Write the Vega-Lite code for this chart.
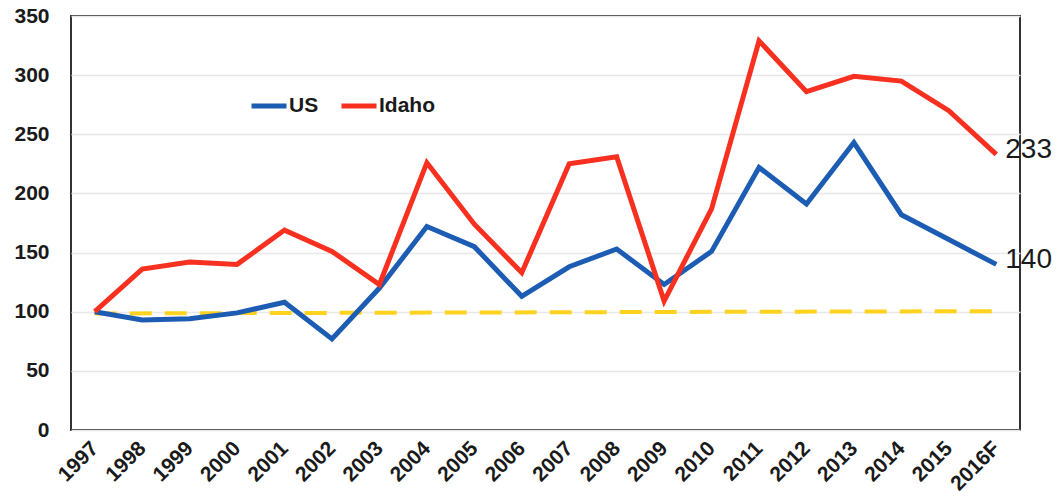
{
  "$schema": "https://vega.github.io/schema/vega-lite/v6.json",
  "width": 949,
  "height": 414,
  "autosize": {"type": "none"},
  "padding": {"left": 71, "top": 16, "right": 40, "bottom": 74},
  "background": "white",
  "config": {
    "view": {"stroke": "#333333", "strokeWidth": 2},
    "font": "Liberation Sans"
  },
  "datasets": {
    "main": [
      {"year": "1997", "series": "US", "value": 100},
      {"year": "1998", "series": "US", "value": 93},
      {"year": "1999", "series": "US", "value": 94},
      {"year": "2000", "series": "US", "value": 99},
      {"year": "2001", "series": "US", "value": 108},
      {"year": "2002", "series": "US", "value": 77},
      {"year": "2003", "series": "US", "value": 120},
      {"year": "2004", "series": "US", "value": 172},
      {"year": "2005", "series": "US", "value": 155},
      {"year": "2006", "series": "US", "value": 113},
      {"year": "2007", "series": "US", "value": 138},
      {"year": "2008", "series": "US", "value": 153},
      {"year": "2009", "series": "US", "value": 123},
      {"year": "2010", "series": "US", "value": 151},
      {"year": "2011", "series": "US", "value": 222},
      {"year": "2012", "series": "US", "value": 191},
      {"year": "2013", "series": "US", "value": 243},
      {"year": "2014", "series": "US", "value": 182},
      {"year": "2015", "series": "US", "value": 161},
      {"year": "2016F", "series": "US", "value": 140},
      {"year": "1997", "series": "Idaho", "value": 100},
      {"year": "1998", "series": "Idaho", "value": 136},
      {"year": "1999", "series": "Idaho", "value": 142},
      {"year": "2000", "series": "Idaho", "value": 140},
      {"year": "2001", "series": "Idaho", "value": 169},
      {"year": "2002", "series": "Idaho", "value": 151},
      {"year": "2003", "series": "Idaho", "value": 123},
      {"year": "2004", "series": "Idaho", "value": 226},
      {"year": "2005", "series": "Idaho", "value": 174},
      {"year": "2006", "series": "Idaho", "value": 133},
      {"year": "2007", "series": "Idaho", "value": 225},
      {"year": "2008", "series": "Idaho", "value": 231},
      {"year": "2009", "series": "Idaho", "value": 109},
      {"year": "2010", "series": "Idaho", "value": 187},
      {"year": "2011", "series": "Idaho", "value": 329},
      {"year": "2012", "series": "Idaho", "value": 286},
      {"year": "2013", "series": "Idaho", "value": 299},
      {"year": "2014", "series": "Idaho", "value": 295},
      {"year": "2015", "series": "Idaho", "value": 270},
      {"year": "2016F", "series": "Idaho", "value": 233}
    ],
    "baseline": [
      {"year": "1997", "value": 98.5},
      {"year": "2016F", "value": 100.5}
    ]
  },
  "encoding": {
    "x": {
      "field": "year",
      "type": "ordinal",
      "scale": {"type": "point", "padding": 0.5},
      "axis": {
        "title": null,
        "domain": false,
        "ticks": false,
        "grid": false,
        "labelAngle": -45,
        "labelAlign": "right",
        "labelBaseline": "middle",
        "labelFontSize": 21,
        "labelFontWeight": "bold",
        "labelColor": "#1a1a1a",
        "labelPadding": 15
      }
    },
    "y": {
      "field": "value",
      "type": "quantitative",
      "scale": {"domain": [0, 350], "nice": false},
      "axis": {
        "title": null,
        "values": [0, 50, 100, 150, 200, 250, 300, 350],
        "domain": false,
        "ticks": false,
        "grid": true,
        "gridColor": "#e8e8e8",
        "gridWidth": 1.5,
        "labelFontSize": 21,
        "labelFontWeight": "bold",
        "labelColor": "#1a1a1a",
        "labelPadding": 22
      }
    }
  },
  "layer": [
    {
      "data": {"name": "baseline"},
      "mark": {"type": "line", "color": "#ffd21f", "strokeWidth": 4, "strokeDash": [22, 13]},
      "encoding": {}
    },
    {
      "data": {"name": "main"},
      "mark": {"type": "line", "strokeWidth": 5, "strokeJoin": "miter"},
      "encoding": {
        "color": {
          "field": "series",
          "type": "nominal",
          "scale": {"domain": ["US", "Idaho"], "range": ["#1c5db3", "#f7301f"]},
          "legend": {
            "title": null,
            "orient": "none",
            "legendX": 178,
            "legendY": 70,
            "direction": "horizontal",
            "symbolType": "stroke",
            "symbolStrokeWidth": 5,
            "symbolSize": 1225,
            "labelFontSize": 21,
            "labelFontWeight": "bold",
            "labelColor": "#1a1a1a",
            "labelOffset": 0,
            "columnPadding": 12
          }
        }
      }
    },
    {
      "data": {"name": "main"},
      "transform": [{"filter": "datum.year === '2016F'"}],
      "mark": {"type": "text", "align": "left", "baseline": "middle", "dx": 9, "dy": -4, "fontSize": 28, "color": "#1a1a1a"},
      "encoding": {"text": {"field": "value", "type": "quantitative"}}
    }
  ]
}
